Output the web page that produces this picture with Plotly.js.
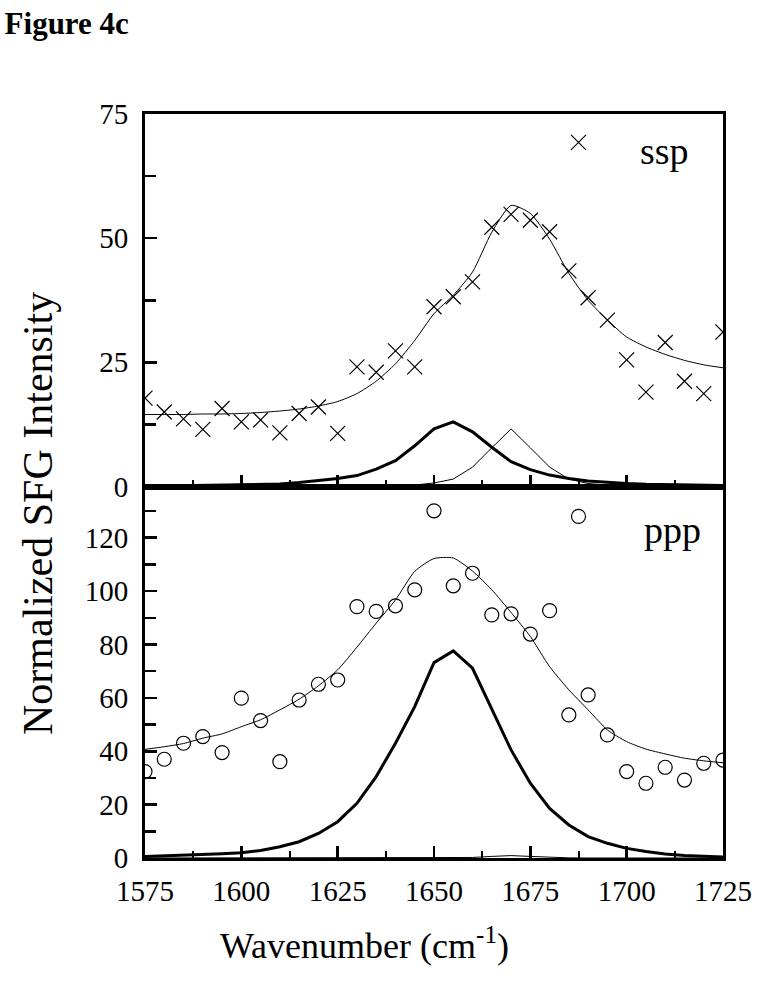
<!DOCTYPE html>
<html>
<head>
<meta charset="utf-8">
<script src="https://cdn.plot.ly/plotly-3.0.1.min.js"></script>
<style>html,body{margin:0;padding:0;background:#fff;}#chart{width:764px;height:984px;}</style>
</head>
<body>
<div id="chart"></div>
<script>
// measured data points (x = wavenumber, cm^-1)
const dataX = [1575,1580,1585,1590,1595,1600,1605,1610,1615,1620,1625,1630,1635,1640,1645,1650,1655,1660,1665,1670,1675,1680,1685,1687.5,1690,1695,1700,1705,1710,1715,1720,1725];
const sspData = [17.8,15.0,13.6,11.5,15.7,13.0,13.4,10.8,14.7,16.0,10.7,24.1,23.0,27.3,24.1,36.2,38.2,41.2,52.2,54.8,53.6,51.3,43.4,69.3,38.0,33.5,25.5,19.0,29.0,21.2,18.7,31.1];
const pppData = [32.4,37.0,43.0,45.5,39.5,59.9,51.5,36.1,59.2,65.1,66.7,94.2,92.4,94.5,100.5,130.1,102.0,106.7,91.1,91.5,83.9,92.7,53.6,128.0,61.1,46.1,32.4,28.0,34.0,29.2,35.5,36.7];

// fit curves
const fitX = [1575,1580,1585,1590,1595,1600,1605,1610,1615,1620,1625,1630,1635,1640,1645,1650,1655,1660,1665,1670,1675,1680,1685,1690,1695,1700,1705,1710,1715,1720,1725];
const sspFit = [14.5,14.5,14.5,14.6,14.6,14.7,14.9,15.2,15.6,16.2,17.1,18.7,21.2,24.7,29.4,34.8,38.5,43.2,51.2,56.6,55.0,49.8,42.9,37.5,33.5,30.1,28.1,26.6,25.4,24.5,23.9];
const sspComp1 = [0.05,0.1,0.1,0.15,0.2,0.25,0.35,0.5,0.8,1.2,1.6,2.2,3.5,5.2,8.2,11.6,13.0,11.0,7.9,5.0,3.4,2.3,1.6,1.1,0.8,0.6,0.45,0.35,0.3,0.25,0.2];
const sspComp2 = [0,0,0,0,0,0,0,0,0,0,0,0.05,0.1,0.15,0.3,0.7,1.5,3.9,7.8,11.6,7.8,3.9,1.5,0.6,0.3,0.15,0.1,0.05,0.05,0,0];
const pppFit = [40.7,41.7,42.9,44.9,46.5,49.2,51.8,55.5,59.5,64.5,70.5,79.0,88.0,96.7,107.4,112.2,112.4,107.5,100.5,92.0,83.0,71.7,63.0,55.5,48.0,43.6,40.8,39.0,37.4,36.4,35.7];
const pppComp1 = [0.6,0.8,1.0,1.3,1.6,2.0,2.8,4.2,6.1,9.2,13.6,20.5,30.5,43.0,56.7,73.2,77.6,71.1,55.5,40.5,28.0,18.6,12.4,8.0,5.5,3.6,2.4,1.5,0.9,0.6,0.4];
const pppComp2 = [0,0,0,0,0,0,0,0,0,0,0,0,0,0,0,0,0.05,0.2,0.6,0.9,0.6,0.2,0.05,0,0,0,0,0,0,0,0];

const xTicks = [1575,1600,1625,1650,1675,1700,1725];
const sspTicks = [0,25,50,75];
const pppTicks = [0,20,40,60,80,100,120];

const FONT = 'Liberation Serif, Times New Roman, serif';
const traces = [
  {x: fitX, y: sspFit, xaxis:'x2', yaxis:'y2', mode:'lines', line:{color:'#000', width:1, shape:'spline', smoothing:0.6}, hoverinfo:'skip'},
  {x: fitX, y: sspComp1, xaxis:'x2', yaxis:'y2', mode:'lines', line:{color:'#000', width:3}},
  {x: fitX, y: sspComp2, xaxis:'x2', yaxis:'y2', mode:'lines', line:{color:'#000', width:1}},
  {x: dataX, y: sspData, xaxis:'x2', yaxis:'y2', mode:'markers', marker:{symbol:'x-thin-open', size:15, color:'#000', line:{color:'#000', width:1.2}}},
  {x: fitX, y: pppFit, xaxis:'x', yaxis:'y', mode:'lines', line:{color:'#000', width:1, shape:'spline', smoothing:0.6}},
  {x: fitX, y: pppComp1, xaxis:'x', yaxis:'y', mode:'lines', line:{color:'#000', width:3}},
  {x: fitX, y: pppComp2, xaxis:'x', yaxis:'y', mode:'lines', line:{color:'#000', width:1}},
  {x: dataX, y: pppData, xaxis:'x', yaxis:'y', mode:'markers', marker:{symbol:'circle-open', size:14, color:'#000', line:{color:'#000', width:1.2}}}
];

const split = (858-486.5)/744;
const axisCommon = {showline:true, linecolor:'#000', linewidth:3, mirror:true, showgrid:false, zeroline:false,
  ticks:'inside', tickcolor:'#000', tickwidth:2.5, ticklen:12, tickfont:{family:FONT, size:29, color:'#000'}};

const layout = {
  width:764, height:984,
  margin:{l:145, r:41, t:114, b:126},
  paper_bgcolor:'#fff', plot_bgcolor:'#fff',
  showlegend:false,
  font:{family:FONT, color:'#000'},
  title:{text:'<b>Figure 4c</b>', font:{family:FONT, size:31, color:'#000'}, xref:'container', yref:'container', x:0.006, xanchor:'left', y:0.976, yanchor:'middle'},
  xaxis: Object.assign({}, axisCommon, {anchor:'y', domain:[0,1], range:[1575,1725], tickmode:'array', tickvals:xTicks,
    minor:{ticks:'inside', ticklen:7, tickwidth:2, tickcolor:'#000', tick0:1575, dtick:12.5}, ticklabelstandoff:5}),
  xaxis2: Object.assign({}, axisCommon, {anchor:'y2', matches:'x', domain:[0,1], range:[1575,1725], tickmode:'array', tickvals:xTicks, showticklabels:false,
    minor:{ticks:'inside', ticklen:7, tickwidth:2, tickcolor:'#000', tick0:1575, dtick:12.5}}),
  yaxis: Object.assign({}, axisCommon, {anchor:'x', domain:[0, split], range:[0,139.2], tickmode:'array', tickvals:pppTicks,
    minor:{ticks:'inside', ticklen:11, tickwidth:2.5, tickcolor:'#000', tick0:0, dtick:10}, ticklabelstandoff:8}),
  yaxis2: Object.assign({}, axisCommon, {anchor:'x2', domain:[split, 1], range:[0,75], tickmode:'array', tickvals:sspTicks,
    minor:{ticks:'inside', ticklen:11, tickwidth:2.5, tickcolor:'#000', tick0:0, dtick:12.5}, ticklabelstandoff:8}),
  annotations:[
    {text:'ssp', xref:'x2', yref:'y2', x:1709.7, y:67.5, showarrow:false, xanchor:'center', yanchor:'middle', font:{family:FONT, size:38, color:'#000'}},
    {text:'ppp', xref:'x', yref:'y', x:1712, y:123, showarrow:false, xanchor:'center', yanchor:'middle', font:{family:FONT, size:38, color:'#000'}},
    {text:'Wavenumber (cm<sup>-1</sup>)', xref:'paper', yref:'paper', x:(364-145)/578, y:(858-943)/744, showarrow:false, xanchor:'center', yanchor:'middle', font:{family:FONT, size:36, color:'#000'}},
    {text:'Normalized SFG Intensity', xref:'paper', yref:'paper', x:(38-145)/578, y:(858-514)/744, textangle:-90, showarrow:false, xanchor:'center', yanchor:'middle', font:{family:FONT, size:42, color:'#000'}}
  ]
};

Plotly.newPlot('chart', traces, layout, {displayModeBar:false, staticPlot:true});
</script>
</body>
</html>
